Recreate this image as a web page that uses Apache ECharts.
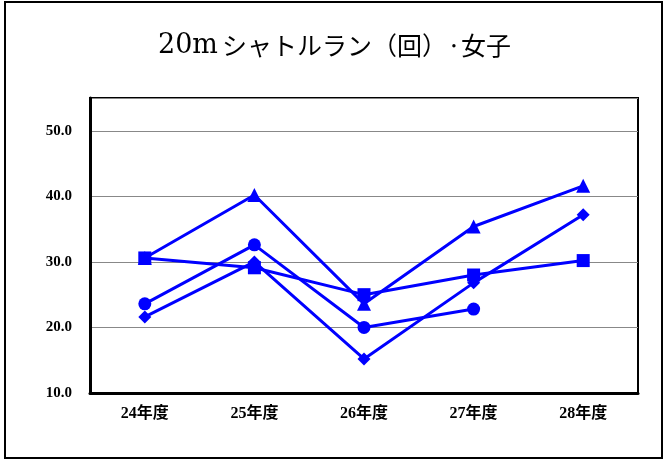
<!DOCTYPE html>
<html>
<head>
<meta charset="utf-8">
<script src="https://cdn.jsdelivr.net/npm/echarts@6/dist/echarts.min.js"></script>
<style>
  html, body { margin: 0; padding: 0; background: #fff; }
  #chart { width: 667px; height: 461px; }
</style>
</head>
<body>
<div id="chart"></div>
<script>
// 年度ごとのシャトルラン（女子）
var years = ['24年度', '25年度', '26年度', '27年度', '28年度'];
var triangleVals = [30.6, 40.2, 23.6, 35.4, 41.6];
var squareVals = [30.6, 29.1, 25.0, 28.0, 30.2];
var circleVals = [23.6, 32.6, 20.0, 22.8, null];
var diamondVals = [21.6, 30.0, 15.2, 26.8, 37.2];

var blue = '#0000ff';

function line(name, data, symbol, size) {
  return {
    name: name,
    type: 'line',
    data: data,
    symbol: symbol,
    symbolSize: size,
    showAllSymbol: true,
    connectNulls: false,
    lineStyle: { color: blue, width: 3 },
    itemStyle: { color: blue },
    emphasis: { disabled: true }
  };
}

var chart = echarts.init(document.getElementById('chart'));
chart.setOption({
  animation: false,
  title: {
    text: '{d|20m}{j|シャトルラン（回）·女子}',
    left: 153,
    top: 27,
    textStyle: {
      fontWeight: 'normal',
      color: '#000',
      rich: {
        d: { fontFamily: 'DejaVu Serif', fontSize: 27, color: '#000', width: 64 },
        j: { fontFamily: 'Noto Sans CJK JP', fontSize: 25, color: '#000' }
      }
    }
  },
  graphic: [{
    type: 'rect',
    shape: { x: 5, y: 2, width: 657, height: 456 },
    style: { fill: null, stroke: '#000', lineWidth: 2 },
    silent: true
  }],
  grid: {
    left: 90, top: 98, right: 29, bottom: 68,
    show: true, borderColor: '#000', borderWidth: 2
  },
  xAxis: {
    type: 'category',
    data: years,
    boundaryGap: true,
    axisLine: { lineStyle: { color: '#000', width: 3 } },
    axisTick: { inside: true, length: 5, lineStyle: { color: '#000' } },
    axisLabel: {
      margin: 13,
      color: '#000',
      fontWeight: 'bold',
      fontSize: 16,
      fontFamily: 'Liberation Serif, Noto Sans CJK JP'
    }
  },
  yAxis: {
    type: 'value',
    min: 10,
    max: 55,
    interval: 10,
    axisLine: { show: true, lineStyle: { color: '#000', width: 3 } },
    axisTick: { show: false },
    splitLine: { lineStyle: { color: '#888', width: 1 } },
    axisLabel: {
      showMaxLabel: false,
      margin: 18,
      color: '#000',
      fontWeight: 'bold',
      fontSize: 15,
      fontFamily: 'Liberation Serif',
      formatter: function (v) { return v.toFixed(1); }
    }
  },
  series: [
    line('triangle', triangleVals, 'triangle', 14),
    line('square', squareVals, 'rect', 13),
    line('circle', circleVals, 'circle', 13),
    line('diamond', diamondVals, 'diamond', 13)
  ]
});
</script>
</body>
</html>
